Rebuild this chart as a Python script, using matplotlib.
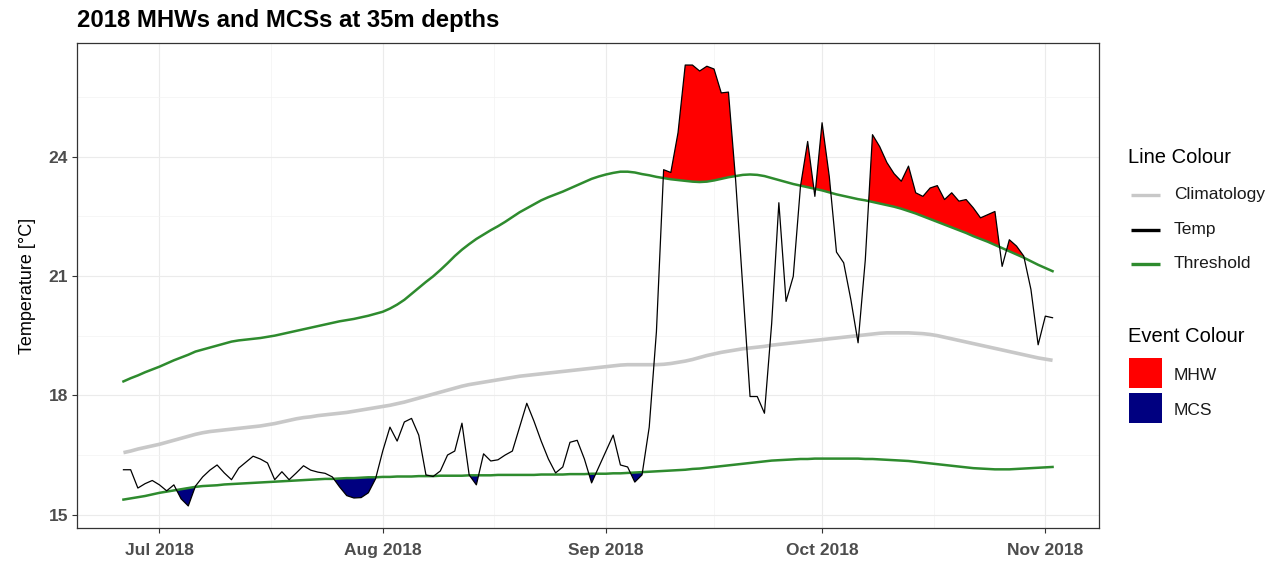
import numpy as np
import matplotlib
matplotlib.use("Agg")
import matplotlib.pyplot as plt
import matplotlib.dates as mdates
from matplotlib.lines import Line2D
from matplotlib.patches import Rectangle

# Daily series, 26 Jun 2018 - 2 Nov 2018 (35 m depth)
start_date = "2018-06-26"
end_date = "2018-11-03"

temp = [
    16.13, 16.13, 15.67, 15.78, 15.86,                          # Jun 26-30
    15.75, 15.60, 15.75, 15.40, 15.22, 15.72, 15.95, 16.12,     # Jul 1-8
    16.25, 16.05, 15.88, 16.17, 16.32, 16.47, 16.40, 16.30,     # Jul 9-16
    15.88, 16.08, 15.88, 16.05, 16.23, 16.12, 16.07, 16.04,     # Jul 17-24
    15.95, 15.70, 15.48, 15.42, 15.43, 15.55, 15.90,            # Jul 25-31
    16.60, 17.20, 16.85, 17.33, 17.42, 17.00, 16.00, 15.96,     # Aug 1-8
    16.10, 16.50, 16.60, 17.30, 16.00, 15.75, 16.53, 16.35,     # Aug 9-16
    16.38, 16.50, 16.60, 17.20, 17.80, 17.35, 16.85, 16.40,     # Aug 17-24
    16.05, 16.20, 16.82, 16.87, 16.40, 15.80, 16.20,            # Aug 25-31
    16.60, 17.00, 16.25, 16.20, 15.82, 16.00, 17.20, 19.60,     # Sep 1-8
    23.67, 23.60, 24.60, 26.30, 26.30, 26.15, 26.27, 26.20,     # Sep 9-16
    25.60, 25.62, 23.40, 20.70, 17.97, 17.97, 17.55, 19.80,     # Sep 17-24
    22.84, 20.36, 20.99, 23.25, 24.38, 23.00,                   # Sep 25-30
    24.85, 23.50, 21.60, 21.33, 20.40, 19.32, 21.40, 24.55,     # Oct 1-8
    24.25, 23.85, 23.57, 23.38, 23.76, 23.09, 23.00, 23.21,     # Oct 9-16
    23.27, 22.92, 23.09, 22.88, 22.92, 22.71, 22.46, 22.54,     # Oct 17-24
    22.62, 21.24, 21.91, 21.75, 21.50, 20.66, 19.27,            # Oct 25-31
    19.99, 19.95,                                               # Nov 1-2
]

climatology = [
    16.56, 16.60, 16.65, 16.69, 16.73,
    16.77, 16.82, 16.87, 16.92, 16.97, 17.02, 17.06, 17.09,
    17.11, 17.13, 17.15, 17.17, 17.19, 17.21, 17.23, 17.26,
    17.29, 17.33, 17.37, 17.41, 17.44, 17.46, 17.49, 17.51,
    17.53, 17.55, 17.57, 17.60, 17.63, 17.66, 17.69,
    17.72, 17.75, 17.79, 17.83, 17.88, 17.93, 17.98, 18.03,
    18.08, 18.13, 18.18, 18.23, 18.27, 18.30, 18.33, 18.36,
    18.39, 18.42, 18.45, 18.48, 18.50, 18.52, 18.54, 18.56,
    18.58, 18.60, 18.62, 18.64, 18.66, 18.68, 18.70,
    18.72, 18.74, 18.76, 18.77, 18.77, 18.77, 18.77, 18.77,
    18.78, 18.80, 18.83, 18.86, 18.90, 18.95, 19.00, 19.04,
    19.08, 19.11, 19.14, 19.17, 19.19, 19.21, 19.23, 19.26,
    19.28, 19.30, 19.32, 19.34, 19.36, 19.38,
    19.40, 19.42, 19.44, 19.46, 19.48, 19.50, 19.52, 19.54,
    19.56, 19.57, 19.57, 19.57, 19.57, 19.56, 19.55, 19.53,
    19.50, 19.46, 19.42, 19.38, 19.34, 19.30, 19.26, 19.22,
    19.18, 19.14, 19.10, 19.06, 19.02, 18.98, 18.94,
    18.91, 18.88,
]

# 90th percentile threshold (marine heatwaves)
threshold_hot = [
    18.35, 18.43, 18.50, 18.58, 18.65,
    18.72, 18.80, 18.88, 18.95, 19.02, 19.10, 19.15, 19.20,
    19.25, 19.30, 19.35, 19.38, 19.40, 19.42, 19.44, 19.47,
    19.50, 19.54, 19.58, 19.62, 19.66, 19.70, 19.74, 19.78,
    19.82, 19.86, 19.89, 19.92, 19.96, 20.00, 20.05,
    20.10, 20.18, 20.28, 20.40, 20.55, 20.70, 20.85, 20.99,
    21.15, 21.32, 21.50, 21.66, 21.80, 21.93, 22.04, 22.15,
    22.25, 22.36, 22.48, 22.60, 22.70, 22.80, 22.90, 22.98,
    23.05, 23.12, 23.20, 23.28, 23.36, 23.44, 23.50,
    23.55, 23.59, 23.62, 23.62, 23.60, 23.56, 23.53, 23.49,
    23.46, 23.43, 23.41, 23.39, 23.37, 23.36, 23.37, 23.40,
    23.44, 23.48, 23.51, 23.54, 23.55, 23.54, 23.51, 23.46,
    23.41, 23.36, 23.31, 23.27, 23.23, 23.19,
    23.15, 23.10, 23.05, 23.01, 22.97, 22.93, 22.90, 22.86,
    22.82, 22.78, 22.74, 22.69, 22.63, 22.57, 22.50, 22.43,
    22.36, 22.29, 22.22, 22.15, 22.08, 22.00, 21.93, 21.86,
    21.78, 21.70, 21.62, 21.54, 21.46, 21.37, 21.28,
    21.20, 21.12,
]

# 10th percentile threshold (marine cold spells)
threshold_cold = [
    15.38, 15.41, 15.44, 15.47, 15.51,                          # Jun 26-30
    15.55, 15.58, 15.61, 15.64, 15.67, 15.70, 15.72, 15.73,     # Jul 1-8
    15.74, 15.76, 15.77, 15.78, 15.79, 15.80, 15.81, 15.82,     # Jul 9-16
    15.83, 15.84, 15.85, 15.86, 15.87, 15.88, 15.89, 15.90,     # Jul 17-24
    15.90, 15.91, 15.92, 15.92, 15.93, 15.94, 15.94,            # Jul 25-31
    15.95, 15.95, 15.96, 15.96, 15.96, 15.97, 15.97, 15.97,     # Aug 1-8
    15.98, 15.98, 15.98, 15.98, 15.99, 15.99, 15.99, 15.99,     # Aug 9-16
    16.00, 16.00, 16.00, 16.00, 16.00, 16.00, 16.01, 16.01,     # Aug 17-24
    16.01, 16.01, 16.02, 16.02, 16.02, 16.03, 16.03,            # Aug 25-31
    16.03, 16.04, 16.04, 16.05, 16.06, 16.07, 16.08, 16.09,     # Sep 1-8
    16.10, 16.11, 16.12, 16.13, 16.15, 16.16, 16.18, 16.20,     # Sep 9-16
    16.22, 16.24, 16.26, 16.28, 16.30, 16.32, 16.34, 16.36,     # Sep 17-24
    16.37, 16.38, 16.39, 16.40, 16.40, 16.41,                   # Sep 25-30
    16.41, 16.41, 16.41, 16.41, 16.41, 16.41, 16.40, 16.40,     # Oct 1-8
    16.39, 16.38, 16.37, 16.36, 16.35, 16.33, 16.31, 16.29,     # Oct 9-16
    16.27, 16.25, 16.23, 16.21, 16.19, 16.17, 16.16, 16.15,     # Oct 17-24
    16.14, 16.14, 16.14, 16.15, 16.16, 16.17, 16.18,            # Oct 25-31
    16.19, 16.20,                                               # Nov 1-2
]

y_ticks = [15, 18, 21, 24]
title = "2018 MHWs and MCSs at 35m depths"
y_label = "Temperature [\u00b0C]"
line_legend = ["Climatology", "Temp", "Threshold"]
event_legend = ["MHW", "MCS"]

# ---- styling -------------------------------------------------------------
COL_CLIM = "#C8C8C8"
COL_TEMP = "black"
COL_THR = "#2E8B2E"
COL_MHW = "#FF0000"
COL_MCS = "#000080"
FONT = "Liberation Sans"
plt.rcParams["font.family"] = [FONT, "DejaVu Sans"]

W, H = 1278, 563
fig = plt.figure(figsize=(W / 100, H / 100), dpi=100)
ax = fig.add_axes([77 / W, 1 - 528 / H, (1099 - 77) / W, (528 - 43) / H])

dates = np.arange(np.datetime64(start_date), np.datetime64(end_date)).astype("datetime64[D]")
x = mdates.date2num(dates.astype("datetime64[s]").astype(object))
t = np.array(temp)
clim = np.array(climatology)
thr_hi = np.array(threshold_hot)
thr_lo = np.array(threshold_cold)

# event flames
ax.fill_between(x, thr_hi, t, where=t > thr_hi, interpolate=True,
                color=COL_MHW, linewidth=0, zorder=2)
ax.fill_between(x, t, thr_lo, where=t < thr_lo, interpolate=True,
                color=COL_MCS, linewidth=0, zorder=2)

# lines
ax.plot(x, clim, color=COL_CLIM, lw=2.6, solid_capstyle="butt", zorder=3)
ax.plot(x, thr_hi, color=COL_THR, lw=1.8, zorder=4)
ax.plot(x, thr_lo, color=COL_THR, lw=1.8, zorder=4)
ax.plot(x, t, color=COL_TEMP, lw=0.9, zorder=5)

# ggplot-like 5% expansion of the data range
span_x = x[-1] - x[0]
xlim = (x[0] - 0.05 * span_x, x[-1] + 0.05 * span_x)
all_y = np.concatenate([t, clim, thr_hi, thr_lo])
span_y = all_y.max() - all_y.min()
ax.set_ylim(all_y.min() - 0.05 * span_y, all_y.max() + 0.05 * span_y)

# axes / grid in theme_bw style
ax.set_xlim(*xlim)
ax.xaxis.set_major_locator(mdates.MonthLocator())
ax.xaxis.set_major_formatter(mdates.DateFormatter("%b %Y"))
majors = list(ax.get_xticks())
gaps = np.diff(majors)
minors = [m + d / 2 for m, d in zip(majors[:-1], gaps)]
minors = [majors[0] - gaps[0] / 2] + minors + [majors[-1] + gaps[-1] / 2]
ax.set_xticks(minors, minor=True)
ax.set_yticks(y_ticks)
ax.set_yticks([v + 1.5 for v in y_ticks], minor=True)
ax.set_xlim(*xlim)

ax.grid(which="major", color="#EBEBEB", lw=0.8, zorder=0)
ax.grid(which="minor", color="#F3F3F3", lw=0.5, zorder=0)
ax.set_axisbelow(True)
for s in ax.spines.values():
    s.set_color("#333333")
    s.set_linewidth(0.9)
ax.tick_params(which="major", length=3.5, width=0.8, color="#333333",
               labelsize=12.5, labelcolor="#4D4D4D", pad=3)
ax.tick_params(which="minor", length=0)
for lab in ax.get_xticklabels() + ax.get_yticklabels():
    lab.set_fontweight("bold")
ax.tick_params(axis="x", pad=7)

ax.set_ylabel(y_label, fontsize=13, color="black", labelpad=9)
fig.text(77 / W, 1 - 20 / H, title, fontsize=17.2, fontweight="bold",
         ha="left", va="center")

# ---- legends ---------------------------------------------------------------
def fx(px):
    return px / W


def fy(py):
    return 1 - py / H


fig.text(fx(1128), fy(158), "Line Colour", fontsize=14.5, ha="left", va="center")
line_styles = [(COL_CLIM, 2.4), (COL_TEMP, 2.4), (COL_THR, 2.4)]
for i, (lab, (col, lw)) in enumerate(zip(line_legend, line_styles)):
    yy = 195 + i * 34.5
    fig.add_artist(Line2D([fx(1131), fx(1160)], [fy(yy), fy(yy)],
                          transform=fig.transFigure, color=col, lw=lw,
                          solid_capstyle="butt"))
    fig.text(fx(1174), fy(yy), lab, fontsize=12.5, ha="left", va="center",
             color="#1A1A1A")

fig.text(fx(1128), fy(337), "Event Colour", fontsize=14.5, ha="left", va="center")
for i, (lab, col) in enumerate(zip(event_legend, [COL_MHW, COL_MCS])):
    top = 358 + i * 34.5
    fig.add_artist(Rectangle((fx(1129), fy(top + 30)), fx(33), 30 / H,
                             transform=fig.transFigure, facecolor=col,
                             edgecolor="none"))
    fig.text(fx(1174), fy(top + 18), lab, fontsize=12.5, ha="left", va="center",
             color="#1A1A1A")

fig.savefig("out.png", dpi=100)
